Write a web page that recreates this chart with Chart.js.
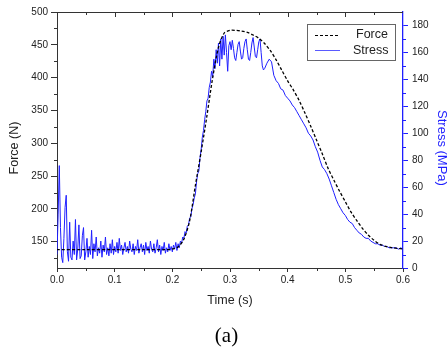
<!DOCTYPE html>
<html lang="en">
<head>
    <meta charset="UTF-8">
    <title>Force and Stress vs Time</title>
    <script src="https://cdn.jsdelivr.net/npm/chart.js"></script>
    <style>
        body {
            margin: 0;
            background: #fff;
        }
        #wrap {
            position: relative;
            width: 447px;
            height: 349px;
        }
    </style>
</head>
<body>
    <div id="wrap">
        <canvas id="chart"></canvas>
    </div>

    <script>
        // axis ticks
        const timeTicks = [0, 0.1, 0.2, 0.3, 0.4, 0.5, 0.6];
        const forceTicks = [150, 200, 250, 300, 350, 400, 450, 500];
        const stressTicks = [0, 20, 40, 60, 80, 100, 120, 140, 160, 180];

        // Force (N), dashed black curve
        const forceTime = [0, 0.05, 0.10, 0.15, 0.19, 0.20, 0.21, 0.22, 0.23, 0.24, 0.25, 0.26, 0.27, 0.28, 0.29,
            0.30, 0.31, 0.32, 0.33, 0.34, 0.35, 0.36, 0.37, 0.38, 0.39, 0.40, 0.41, 0.42, 0.43, 0.44,
            0.45, 0.46, 0.47, 0.48, 0.49, 0.50, 0.51, 0.52, 0.53, 0.54, 0.55, 0.56, 0.57, 0.58, 0.59, 0.60];
        const forceValues = [138, 138, 138, 138, 138, 139, 142, 154, 182, 236, 287, 342, 400, 446, 468,
            472, 472, 471, 469, 465, 460, 452, 441, 427, 411, 395, 381, 365, 346, 326,
            305, 284, 262, 244, 227, 211, 195, 182, 170, 160, 152, 146, 143, 141, 140, 139];

        // Stress (MPa): every 2 ms from 0 to 0.358 s, then every 4 ms from 0.36 s
        const stressEarlyStep = 0.002;
        const stressEarly = [
            10, 40, 76, 30, 8, 4, 22, 45, 54, 12,
            5, 34, 8, 6, 20, 10, 36, 6, 14, 32,
            7, 9, 24, 30, 6, 12, 22, 8, 16, 10,
            28, 7, 18, 12, 23, 9, 15, 11, 20, 8,
            17, 12, 23, 10, 15, 9, 18, 11, 21, 10,
            16, 12, 19, 11, 22, 13, 17, 10, 15, 19,
            12, 16, 11, 20, 14, 12, 18, 10, 16, 13,
            21, 11, 15, 18, 12, 17, 10, 19, 13, 16,
            11, 20, 14, 12, 18, 11, 15, 21, 12, 17,
            10, 16, 13, 19, 11, 15, 12, 18, 13, 16,
            12, 17, 14, 19, 13, 18, 15, 20, 18, 23,
            22, 27, 26, 31, 32, 37, 38, 44, 47, 52,
            55, 64, 70, 72, 82, 88, 97, 102, 110, 116,
            124, 126, 134, 138, 146, 142, 155, 148, 162, 152,
            167, 150, 170, 155, 172, 158, 173, 160, 146, 165,
            168, 162, 169, 163, 156, 154, 160, 166, 168, 161,
            155, 156, 163, 168, 170, 162, 155, 154, 160, 167,
            171, 164, 157, 156, 162, 168, 170, 160, 150, 147
        ];
        const stressLateStart = 0.36;
        const stressLateStep = 0.004;
        const stressLate = [
            148, 152, 155, 153, 143, 139, 137, 133, 132, 128,
            126, 124, 121, 119, 116, 113, 110, 107, 104, 100,
            98, 95, 90, 86, 80, 75, 73, 70, 66, 61,
            56, 51, 47, 44, 41, 39, 36, 34, 33, 30,
            28, 26, 25, 23, 22, 22, 20, 19, 18, 18,
            17, 17, 16, 16, 15, 15, 15, 15, 14, 15,
            14
        ];

        const forceData = forceTime.map((t, i) => ({ x: t, y: forceValues[i] }));
        const stressData = stressEarly.map((v, i) => ({ x: +(i * stressEarlyStep).toFixed(3), y: v }))
            .concat(stressLate.map((v, i) => ({ x: +(stressLateStart + i * stressLateStep).toFixed(3), y: v })));

        const blue = '#1f1fff';
        const axisColor = '#333';
        const labelFont = { family: 'Liberation Sans, Arial, sans-serif', size: 10 };
        const titleFont = { family: 'Liberation Sans, Arial, sans-serif', size: 12.5 };

        // frame, minor ticks, side titles, legend box and panel label
        const extras = {
            id: 'extras',
            afterDraw(chart) {
                const { ctx, chartArea: a, scales } = chart;
                ctx.save();
                ctx.lineWidth = 1;

                // top border with inward ticks
                ctx.strokeStyle = axisColor;
                ctx.beginPath();
                ctx.moveTo(a.left, a.top + 0.5);
                ctx.lineTo(a.right, a.top + 0.5);
                [0.05, 0.1, 0.15, 0.2, 0.25, 0.3, 0.35, 0.4, 0.45, 0.5, 0.55].forEach(t => {
                    const x = Math.round(scales.x.getPixelForValue(t)) + 0.5;
                    const major = timeTicks.some(v => Math.abs(v - t) < 1e-6);
                    ctx.moveTo(x, a.top);
                    ctx.lineTo(x, a.top + (major ? 5 : 3));
                });
                // bottom minor ticks
                [0.05, 0.15, 0.25, 0.35, 0.45, 0.55].forEach(t => {
                    const x = Math.round(scales.x.getPixelForValue(t)) + 0.5;
                    ctx.moveTo(x, a.bottom);
                    ctx.lineTo(x, a.bottom + 3);
                });
                // left minor ticks
                [125, 175, 225, 275, 325, 375, 425, 475].forEach(v => {
                    const y = Math.round(scales.y.getPixelForValue(v)) + 0.5;
                    ctx.moveTo(a.left, y);
                    ctx.lineTo(a.left - 3, y);
                });
                ctx.stroke();

                // right minor ticks (blue)
                ctx.strokeStyle = blue;
                ctx.beginPath();
                [10, 30, 50, 70, 90, 110, 130, 150, 170].forEach(v => {
                    const y = Math.round(scales.y2.getPixelForValue(v)) + 0.5;
                    ctx.moveTo(a.right, y);
                    ctx.lineTo(a.right + 3, y);
                });
                ctx.stroke();

                // side axis titles (sit a little below the plot centre, as in the original)
                const midY = (a.top + a.bottom) / 2 + 8;
                ctx.textAlign = 'center';
                ctx.textBaseline = 'middle';
                ctx.font = '12.5px "Liberation Sans", Arial, sans-serif';
                ctx.fillStyle = '#222';
                ctx.save();
                ctx.translate(15, midY);
                ctx.rotate(-Math.PI / 2);
                ctx.fillText('Force (N)', 0, 0);
                ctx.restore();
                ctx.font = '13px "Liberation Sans", Arial, sans-serif';
                ctx.fillStyle = blue;
                ctx.save();
                ctx.translate(441.5, midY);
                ctx.rotate(Math.PI / 2);
                ctx.fillText('Stress (MPa)', 0, 0);
                ctx.restore();

                // legend
                ctx.strokeStyle = '#666';
                ctx.strokeRect(307.5, 24.5, 88, 36);
                ctx.strokeStyle = '#000';
                ctx.setLineDash([3, 2]);
                ctx.lineWidth = 1.2;
                ctx.beginPath();
                ctx.moveTo(315, 35.5);
                ctx.lineTo(340, 35.5);
                ctx.stroke();
                ctx.setLineDash([]);
                ctx.strokeStyle = '#5a5aff';
                ctx.lineWidth = 1;
                ctx.beginPath();
                ctx.moveTo(315, 50.5);
                ctx.lineTo(340, 50.5);
                ctx.stroke();
                ctx.fillStyle = '#222';
                ctx.font = '12.5px "Liberation Sans", Arial, sans-serif';
                ctx.textAlign = 'left';
                ctx.fillText('Force', 356, 35);
                ctx.fillText('Stress', 353, 51);

                // panel label
                ctx.fillStyle = '#000';
                ctx.font = '21px "Liberation Serif", "Times New Roman", serif';
                ctx.textAlign = 'center';
                ctx.textBaseline = 'alphabetic';
                ctx.fillText('(a)', 226.5, 342);
                ctx.restore();
            }
        };

        new Chart(document.getElementById('chart'), {
            type: 'line',
            data: {
                datasets: [{
                    label: 'Force',
                    data: forceData,
                    yAxisID: 'y',
                    borderColor: '#000',
                    borderWidth: 1.3,
                    borderDash: [3, 2],
                    pointRadius: 0,
                    tension: 0.3,
                    fill: false
                }, {
                    label: 'Stress',
                    data: stressData,
                    yAxisID: 'y2',
                    borderColor: blue,
                    borderWidth: 1,
                    pointRadius: 0,
                    tension: 0,
                    fill: false
                }]
            },
            options: {
                responsive: true,
                maintainAspectRatio: false,
                animation: false,
                layout: {
                    padding: { top: 12, left: 0, right: 0, bottom: 41 }
                },
                plugins: {
                    legend: { display: false },
                    tooltip: { enabled: false }
                },
                scales: {
                    x: {
                        type: 'linear',
                        min: 0,
                        max: 0.6,
                        afterBuildTicks: s => { s.ticks = timeTicks.map(v => ({ value: v })); },
                        afterFit: s => { s.height = 40; },
                        ticks: {
                            color: '#222',
                            font: labelFont,
                            padding: 2,
                            maxRotation: 0,
                            callback: v => v.toFixed(1)
                        },
                        grid: { drawOnChartArea: false, tickLength: 4, tickColor: axisColor },
                        border: { color: axisColor, width: 1 },
                        title: { display: true, text: 'Time (s)', color: '#222', font: titleFont, padding: 0 }
                    },
                    y: {
                        position: 'left',
                        min: 110,
                        max: 500,
                        afterBuildTicks: s => { s.ticks = forceTicks.map(v => ({ value: v })); },
                        afterFit: s => { s.width = 57; },
                        ticks: { color: '#222', font: labelFont, padding: 3 },
                        grid: { drawOnChartArea: false, tickLength: 6, tickColor: axisColor },
                        border: { color: axisColor, width: 1 }
                    },
                    y2: {
                        position: 'right',
                        min: 0,
                        max: 190,
                        afterBuildTicks: s => { s.ticks = stressTicks.map(v => ({ value: v })); },
                        afterFit: s => { s.width = 44; },
                        ticks: { color: '#222', font: labelFont, padding: 4 },
                        grid: { drawOnChartArea: false, tickLength: 5, tickColor: blue },
                        border: { color: blue, width: 1.3 }
                    }
                }
            },
            plugins: [extras]
        });
    </script>
</body>
</html>
